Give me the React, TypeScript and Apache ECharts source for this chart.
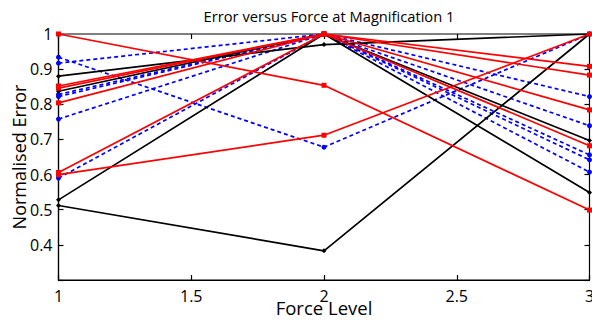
import React, { useEffect, useRef } from "react";
import * as echarts from "echarts";

const forceLevels = [1, 2, 3];
const blackSeries = [
  [0.88, 0.97, 1.0],
  [0.837, 1.0, 0.697],
  [0.528, 1.0, 0.549],
  [0.512, 0.383, 1.0],
];
const redSeries = [
  [1.0, 0.854, 0.499],
  [0.6, 0.712, 1.0],
  [0.852, 1.0, 0.908],
  [0.846, 1.0, 0.883],
  [0.804, 1.0, 0.784],
  [0.606, 1.0, 0.682],
];
const blueSeries = [
  [0.934, 0.678, 1.0],
  [0.917, 1.0, 0.822],
  [0.828, 1.0, 0.739],
  [0.822, 1.0, 0.656],
  [0.758, 1.0, 0.642],
  [0.59, 1.0, 0.607],
];
const xTicks = [1, 1.5, 2, 2.5, 3];
const yTicks = [0.4, 0.5, 0.6, 0.7, 0.8, 0.9, 1];

const FONT = "Open Sans";

function mk(vals: number[], color: string, symbol: string, size: number, dashed: boolean) {
  return {
    type: "line",
    data: vals.map((v, i) => [forceLevels[i], v]),
    symbol,
    symbolSize: size,
    showAllSymbol: true,
    itemStyle: { color },
    lineStyle: { color, width: 1.7, type: dashed ? [4, 3] : "solid" },
    emphasis: { disabled: true },
    z: 3,
  };
}

export default function App() {
  const ref = useRef<HTMLDivElement>(null);
  useEffect(() => {
    const chart = echarts.init(ref.current!, null, { renderer: "svg" });
    const series: any[] = [
      ...blueSeries.map((s) => mk(s, "#0000ff", "circle", 5, true)),
      ...blackSeries.map((s) => mk(s, "#000000", "diamond", 5, false)),
      ...redSeries.map((s) => mk(s, "#ff0000", "rect", 5, false)),
    ];
    const labelFmt = (v: number) => (yTicks.some((t) => Math.abs(t - v) < 1e-6) ? String(+v.toFixed(1)) : "");
    chart.setOption({
      animation: false,
      title: {
        text: "Error versus Force at Magnification 1",
        left: 324,
        textAlign: "center",
        top: 3,
        textStyle: { fontFamily: FONT, fontSize: 14.7, fontWeight: "normal", color: "#000" },
      },
      grid: {
        left: 58.5, right: 2.5, top: 34, bottom: 40,
        outerBoundsMode: "none", containLabel: false,
        show: true, borderColor: "#000", borderWidth: 1.2, backgroundColor: "#fff",
      },
      xAxis: [
        {
          type: "value",
          min: 1,
          max: 3,
          interval: 0.5,
          name: "Force Level",
          nameLocation: "middle",
          nameMoveOverlap: false,
          nameGap: 17,
          nameTextStyle: { fontFamily: FONT, fontSize: 18.5, color: "#000", lineHeight: 20 },
          axisLine: { show: true, lineStyle: { color: "#000", width: 1.2 } },
          axisTick: { show: true, inside: true, length: 5, lineStyle: { color: "#000", width: 1.2 } },
          axisLabel: { fontFamily: FONT, fontSize: 16, color: "#000", margin: 8, formatter: (v: number) => (xTicks.includes(v) ? String(v) : "") },
          splitLine: { show: false },
        },
        {
          type: "value",
          position: "top",
          min: 1,
          max: 3,
          interval: 0.5,
          axisLine: { show: false },
          axisTick: { show: true, inside: true, length: 5, lineStyle: { color: "#000", width: 1.2 } },
          axisLabel: { show: false },
          splitLine: { show: false },
        },
      ],
      yAxis: [
        {
          type: "value",
          min: 0.3,
          max: 1,
          interval: 0.1,
          name: "Normalised Error",
          nameLocation: "middle",
          nameMoveOverlap: false,
          nameGap: 30,
          nameTextStyle: { fontFamily: FONT, fontSize: 18, color: "#000", lineHeight: 20 },
          axisLine: { show: true, lineStyle: { color: "#000", width: 1.2 } },
          axisTick: { show: true, inside: true, length: 5, lineStyle: { color: "#000", width: 1.2 } },
          axisLabel: { fontFamily: FONT, fontSize: 16, color: "#000", margin: 6, formatter: labelFmt },
          splitLine: { show: false },
        },
        {
          type: "value",
          position: "right",
          min: 0.3,
          max: 1,
          interval: 0.1,
          axisLine: { show: false },
          axisTick: { show: true, inside: true, length: 5, lineStyle: { color: "#000", width: 1.2 } },
          axisLabel: { show: false },
          splitLine: { show: false },
        },
      ],
      series,
    });
    return () => chart.dispose();
  }, []);
  return <div ref={ref} style={{ width: 592, height: 320, position: "absolute", left: 0, top: 0, background: "#fff" }} />;
}
